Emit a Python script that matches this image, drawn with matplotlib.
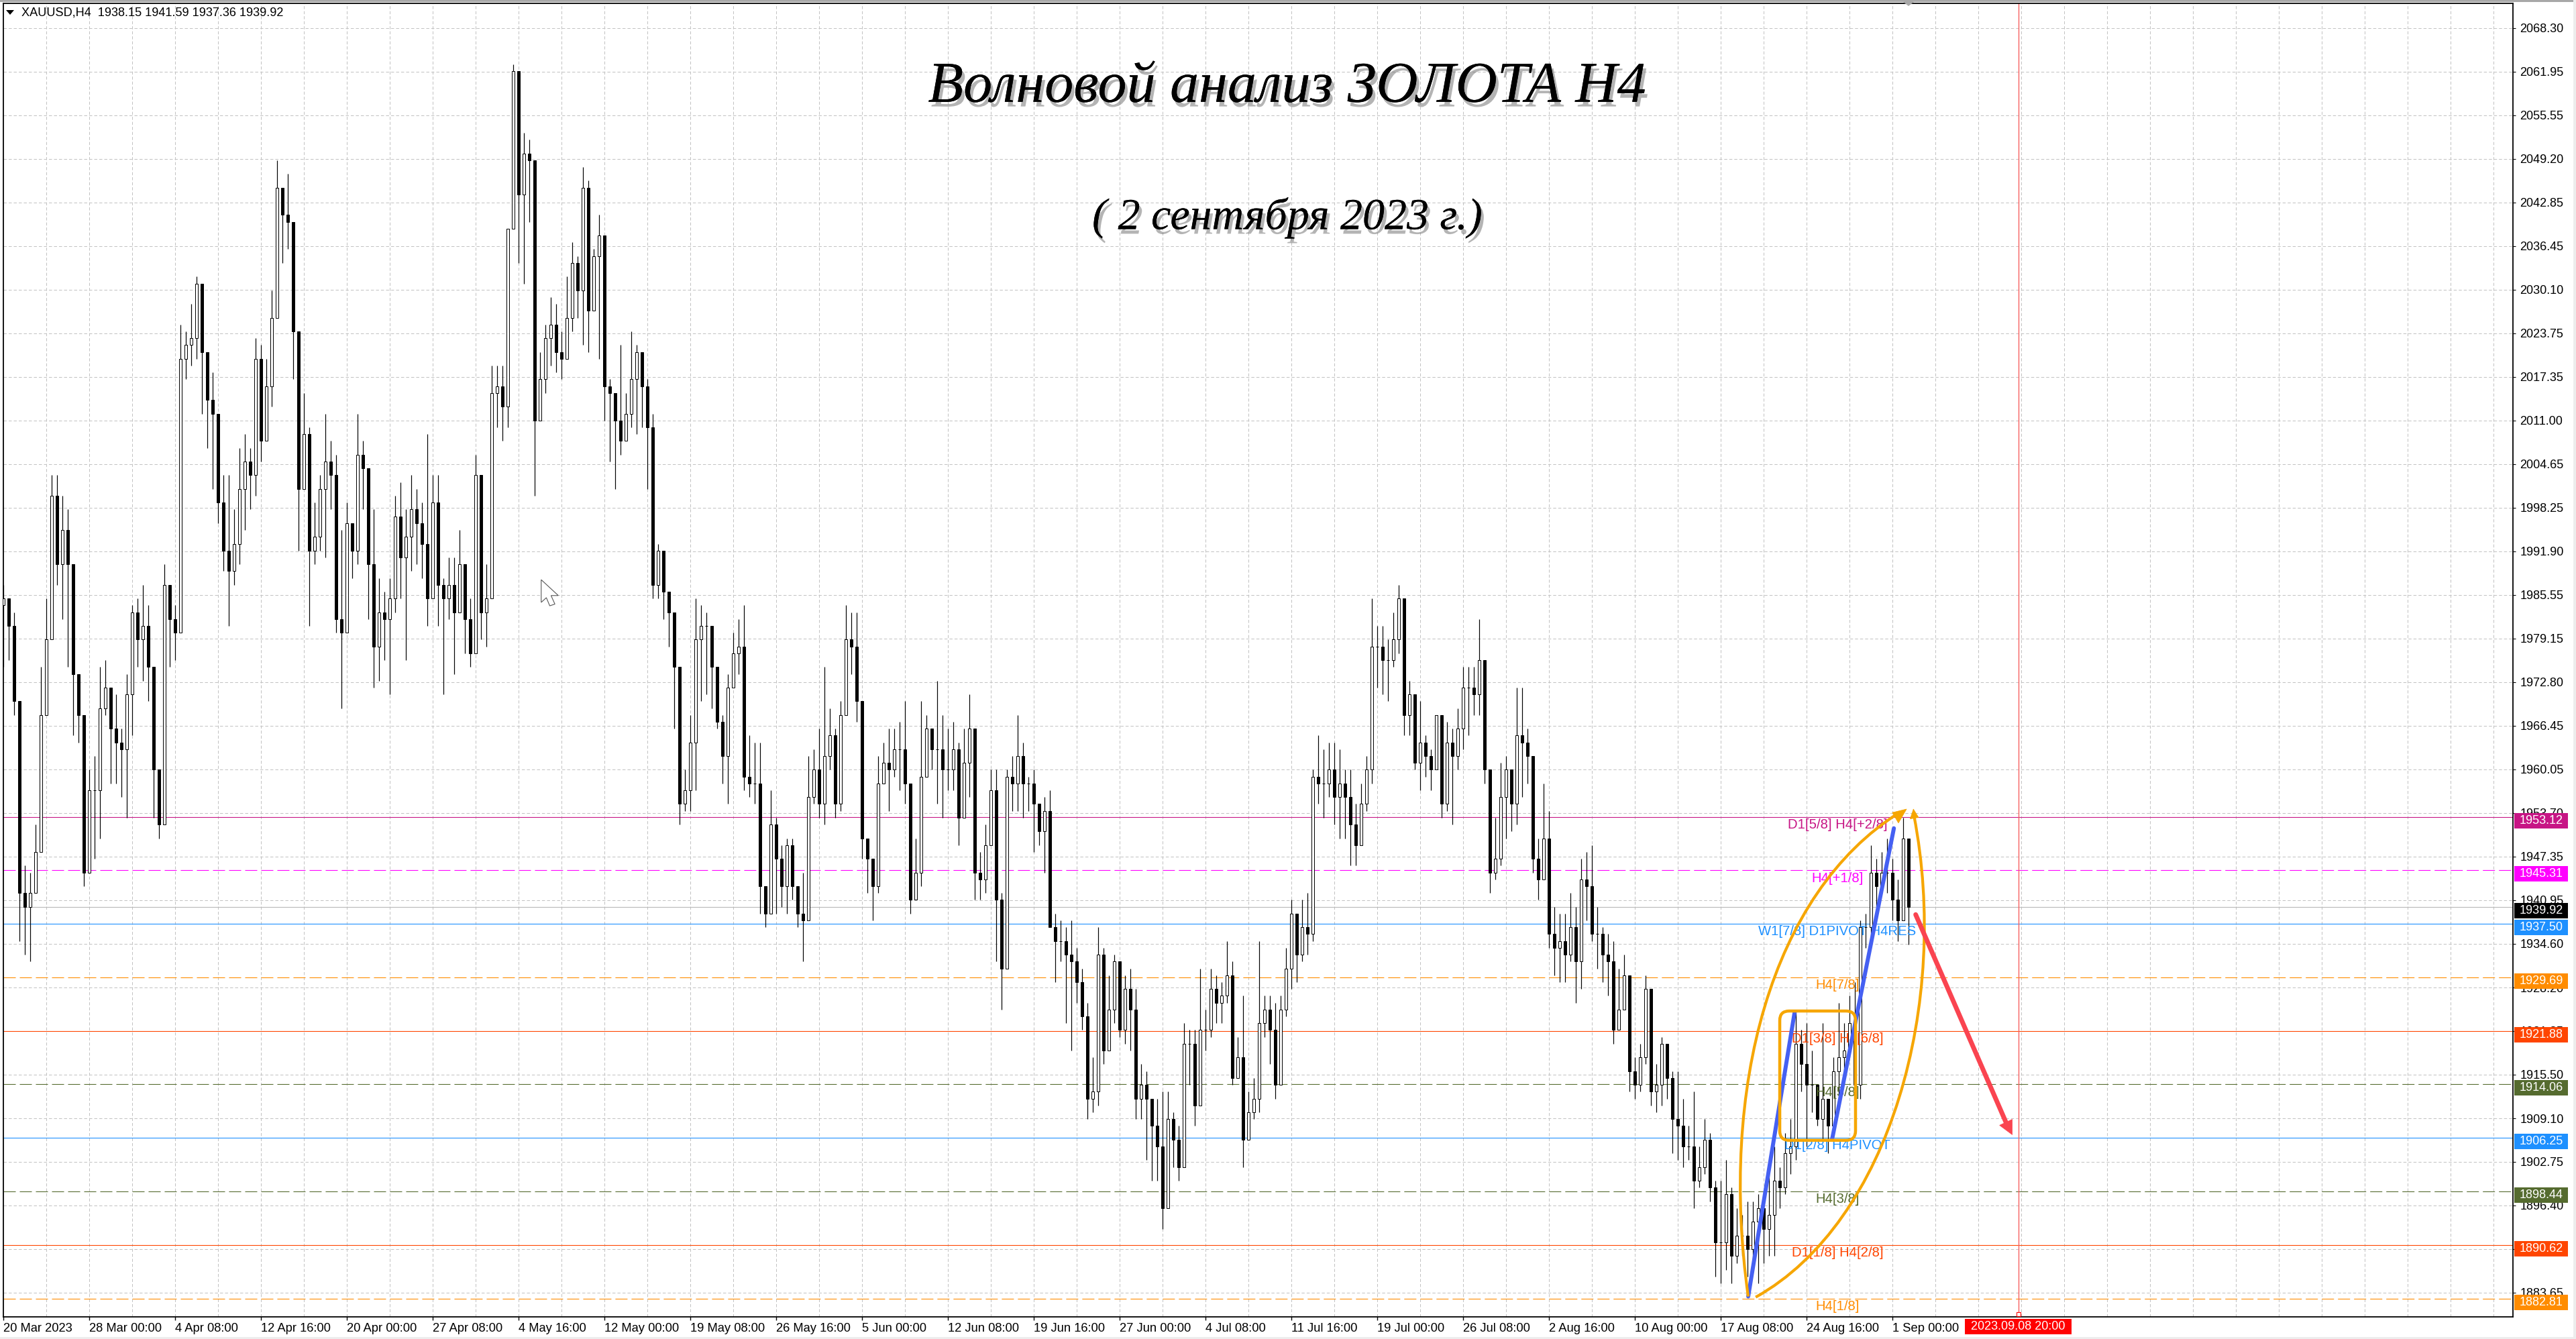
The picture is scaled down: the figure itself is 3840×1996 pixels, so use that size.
import numpy as np
import matplotlib
matplotlib.use("Agg")
import matplotlib.pyplot as plt
from matplotlib.path import Path
from matplotlib.patches import PathPatch, Polygon, Rectangle, FancyBboxPatch
from matplotlib.transforms import Affine2D
import matplotlib.patheffects as pe

plt.rcParams['font.family'] = ['Liberation Sans', 'DejaVu Sans']
plt.rcParams['lines.scale_dashes'] = False

first_open = 1984
closes = [
1985,1981,1970,1942,1940,1942,1948,1968,1979,2000,
1990,1995,1990,1974,1968,1945,1957,1957,1969,1972,
1966,1964,1963,1971,1983,1979,1981,1975,1960,1952,
1987,1982,1980,2020,2022,2023,2031,2021,2014,2012,
1999,1992,1989,1993,2001,2005,2003,2020,2008,2016,
2026,2045,2041,2040,2024,2001,2009,1992,1994,2001,
2005,2003,1982,1980,1996,1992,2006,2004,1990,1978,
1983,1982,1985,1997,1991,1994,1998,1996,1993,1985,
1999,1987,1985,1987,1983,1990,1982,1977,2003,1983,
1985,2015,2016,2013,2039,2062,2044,2050,2049,2011,
2017,2023,2025,2021,2020,2026,2034,2030,2045,2027,
2035,2038,2016,2015,2011,2008,2012,2017,2021,2016,
2010,1987,1992,1986,1983,1975,1955,1957,1964,1979,
1981,1981,1975,1967,1962,1972,1977,1978,1959,1958,
1958,1943,1939,1952,1947,1943,1949,1943,1939,1938,
1956,1960,1955,1962,1965,1955,1968,1979,1978,1970,
1950,1947,1943,1958,1961,1960,1963,1963,1958,1941,
1945,1959,1966,1963,1963,1960,1960,1963,1953,1961,
1966,1945,1944,1949,1957,1941,1931,1959,1958,1962,
1958,1958,1955,1951,1954,1937,1935,1935,1933,1932,
1929,1924,1912,1913,1933,1919,1925,1932,1922,1928,
1925,1912,1914,1912,1908,1905,1896,1909,1906,1902,
1920,1920,1911,1922,1922,1928,1926,1927,1930,1915,
1918,1906,1910,1912,1923,1925,1922,1914,1925,1931,
1939,1933,1937,1936,1959,1958,1958,1960,1956,1958,
1956,1952,1949,1955,1960,1978,1978,1976,1976,1979,
1985,1968,1971,1961,1964,1962,1960,1968,1955,1964,
1962,1966,1972,1972,1971,1976,1960,1945,1947,1956,
1960,1955,1965,1964,1962,1947,1944,1950,1936,1934,
1935,1933,1937,1932,1944,1943,1936,1936,1933,1932,
1922,1925,1930,1916,1914,1918,1928,1913,1914,1920,
1915,1909,1908,1905,1905,1900,1902,1906,1899,1891,
1891,1898,1889,1892,1892,1890,1894,1896,1893,1895,
1900,1899,1904,1905,1920,1917,1914,1914,1909,1912,
1908,1916,1918,1919,1923,1914,1937,1937,1945,1943,
1945,1945,1941,1938,1950,1939.92]
highs = [
1987,1985,1983,1966,1946,1945,1952,1975,1985,2003,
2003,2000,1998,1979,1971,1968,1960,1962,1975,1976,
1972,1971,1966,1974,1984,1985,1987,1984,1975,1960,
1990,1986,1984,2025,2024,2028,2032,2024,2021,2018,
2012,2003,2003,1998,2007,2009,2007,2023,2022,2020,
2030,2049,2045,2047,2033,2014,2015,2010,1999,2003,
2012,2008,2006,1995,1999,1996,2012,2008,2003,1998,
1988,1986,1988,2000,2002,1998,2003,2001,1999,2009,
2003,2003,1988,1991,1991,1995,1988,1985,2006,2003,
1990,2019,2019,2019,2039,2063,2060,2053,2052,2043,
2021,2025,2029,2028,2024,2032,2037,2035,2048,2046,
2036,2041,2038,2017,2014,2022,2015,2024,2022,2021,
2017,2012,1993,1992,1986,1982,1968,1960,1968,1985,
1984,1983,1980,1973,1968,1974,1980,1982,1984,1965,
1964,1964,1943,1957,1953,1949,1950,1950,1943,1945,
1962,1963,1966,1975,1969,1966,1970,1984,1983,1983,
1970,1950,1945,1962,1964,1966,1966,1967,1970,1958,
1950,1970,1968,1966,1973,1968,1966,1967,1964,1966,
1971,1965,1948,1952,1960,1960,1942,1960,1962,1968,
1964,1959,1960,1953,1956,1957,1939,1938,1937,1938,
1934,1931,1926,1918,1937,1934,1930,1933,1931,1930,
1931,1928,1917,1916,1912,1912,1913,1913,1910,1908,
1923,1922,1922,1931,1925,1931,1930,1929,1935,1932,
1921,1927,1913,1915,1935,1927,1927,1926,1927,1934,
1941,1935,1941,1942,1960,1965,1963,1964,1964,1963,
1960,1960,1955,1958,1962,1985,1981,1981,1979,1983,
1987,1984,1973,1971,1970,1965,1963,1968,1966,1967,
1966,1969,1975,1975,1975,1982,1976,1960,1953,1961,
1962,1959,1972,1972,1966,1960,1950,1958,1954,1940,
1939,1939,1942,1940,1947,1948,1949,1940,1937,1936,
1935,1931,1933,1926,1918,1920,1930,1921,1917,1921,
1919,1916,1916,1912,1908,1913,1905,1909,1907,1900,
1900,1903,1899,1896,1895,1897,1897,1898,1898,1902,
1905,1902,1907,1909,1925,1922,1923,1919,1914,1923,
1912,1918,1926,1923,1927,1929,1938,1939,1949,1947,
1948,1950,1947,1944,1953,1941.59]
lows = [
1975,1976,1968,1935,1933,1932,1942,1948,1968,1980,
1987,1982,1975,1965,1964,1943,1950,1947,1950,1968,
1958,1958,1956,1953,1965,1975,1973,1970,1953,1950,
1960,1975,1976,1980,2017,2019,2020,2012,2007,2001,
1996,1989,1981,1987,1990,1995,1998,2000,2005,2010,
2013,2030,2034,2036,2017,1992,2002,1981,1990,1992,
1991,1998,1980,1969,1980,1988,1990,1998,1982,1972,
1973,1976,1971,1983,1985,1976,1989,1990,1988,1981,
1985,1981,1971,1982,1974,1984,1977,1975,1978,1979,
1978,1985,2010,2008,2010,2039,2034,2031,2040,2000,
2013,2015,2019,2018,2017,2022,2024,2026,2022,2021,
2028,2020,2011,2005,2001,2006,2008,2010,2009,2010,
2001,1985,1985,1982,1978,1966,1952,1954,1954,1957,
1970,1971,1969,1966,1958,1955,1972,1974,1957,1956,
1955,1939,1937,1940,1939,1940,1939,1941,1937,1932,
1938,1955,1953,1952,1960,1953,1954,1969,1974,1967,
1947,1942,1938,1942,1958,1954,1959,1957,1955,1939,
1942,1943,1961,1960,1955,1953,1957,1957,1949,1955,
1956,1941,1941,1942,1950,1932,1925,1931,1954,1954,
1953,1954,1948,1949,1945,1937,1929,1932,1923,1919,
1926,1922,1909,1910,1911,1917,1922,1923,1921,1920,
1919,1909,1909,1903,1900,1900,1893,1900,1902,1900,
1902,1914,1908,1917,1919,1921,1923,1923,1926,1914,
1915,1902,1907,1909,1910,1921,1917,1912,1919,1924,
1928,1929,1932,1933,1935,1955,1953,1956,1952,1950,
1950,1946,1946,1949,1954,1958,1972,1971,1970,1975,
1977,1965,1965,1960,1957,1959,1957,1960,1953,1954,
1952,1960,1963,1965,1968,1968,1958,1942,1944,1946,
1950,1951,1952,1956,1958,1945,1941,1947,1934,1930,
1929,1929,1932,1926,1928,1938,1935,1931,1929,1927,
1920,1923,1926,1913,1912,1913,1917,1911,1910,1911,
1912,1904,1903,1902,1903,1896,1899,1901,1897,1886,
1885,1887,1885,1888,1889,1886,1888,1885,1888,1889,
1889,1896,1898,1901,1903,1913,1905,1910,1908,1906,
1904,1910,1912,1914,1918,1910,1912,1934,1934,1940,
1942,1942,1938,1935,1938,1934.5]

y_ticks = [2068.30,2061.95,2055.55,2049.20,2042.85,2036.45,2030.10,2023.75,2017.35,2011.00,
           2004.65,1998.25,1991.90,1985.55,1979.15,1972.80,1966.45,1960.05,1953.70,1947.35,
           1940.95,1934.60,1928.20,1921.85,1915.50,1909.10,1902.75,1896.40,1890.00,1883.65]
date_labels = ["20 Mar 2023","28 Mar 00:00","4 Apr 08:00","12 Apr 16:00","20 Apr 00:00","27 Apr 08:00",
               "4 May 16:00","12 May 00:00","19 May 08:00","26 May 16:00","5 Jun 00:00","12 Jun 08:00",
               "19 Jun 16:00","27 Jun 00:00","4 Jul 08:00","11 Jul 16:00","19 Jul 00:00","26 Jul 08:00",
               "2 Aug 16:00","10 Aug 00:00","17 Aug 08:00","24 Aug 16:00","1 Sep 00:00"]
level_values = [1953.12,1945.31,1939.92,1937.50,1929.69,1921.88,1914.06,1906.25,1898.44,1890.62,1882.81]
level_colors = ['#C71585','#FF00FF','#B8B8B8','#1E90FF','#FF8C00','#FF4500','#556B2F','#1E90FF','#556B2F','#FF4500','#FF8C00']
level_dashed = [False,True,False,False,True,False,True,False,True,False,True]
badge_colors = ['#C71585','#FF00FF','#000000','#1E90FF','#FF8C00','#FF4500','#556B2F','#1E90FF','#556B2F','#FF4500','#FF8C00']
level_text = ["D1[5/8] H4[+2/8]","H4[+1/8]",None,"W1[7/8] D1PIVOT H4RES","H4[7/8]","D1[3/8] H4[6/8]",
              "H4[5/8]","D1[2/8] H4PIVOT","H4[3/8]","D1[1/8] H4[2/8]","H4[1/8]"]

W, H = 3840, 1996
L, R, T, B = 5, 3746, 5, 1963
price_at = lambda y: 2068.30 - (y - 41.7) / 10.21

fig = plt.figure(figsize=(W/100, H/100), dpi=100, facecolor='white')
ax = fig.add_axes([L/W, 1-B/H, (R-L)/W, (B-T)/H])
pix = Affine2D().scale(1, -1).translate(0, H)
px = 1/1.389

n = len(closes)
x = np.arange(n) * 2
c = np.array(closes, float)
o = np.r_[first_open, c[:-1]]
h = np.maximum.reduce([np.array(highs, float), o, c])
l = np.minimum.reduce([np.array(lows, float), o, c])

# grid
gridstyle = dict(color='#c2c2c2', lw=1.0*px, ls=(0, (4.5*px, 3*px)), zorder=1)
for v in np.arange(16, 936, 16):
    ax.axvline(v, **gridstyle)
for v in y_ticks:
    ax.axhline(v, **gridstyle)

# levels
for v, col, d in zip(level_values, level_colors, level_dashed):
    ls = (0, (18*px, 6*px)) if d else '-'
    ax.axhline(v, color=col, lw=1.1*px, ls=ls, zorder=2)

# vertical marker
vmark = 751
ax.axvline(vmark, color='#F86060', lw=1.4*px, zorder=2)
ax.plot([vmark], [price_at(1959)], marker='s', ms=4, mfc='white', mec='#FF0000', mew=0.8, zorder=3, clip_on=False)

# candles
up = c >= o
ax.vlines(x, l, h, color='black', lw=1.2*px, zorder=3)
ax.bar(x[up], (c-o)[up], bottom=o[up], width=0.9, facecolor='white', edgecolor='black', linewidth=1.0*px, zorder=4)
ax.bar(x[~up], (c-o)[~up], bottom=o[~up], width=0.9, facecolor='black', edgecolor='black', linewidth=1.0*px, zorder=4)

# level labels
for v, col, t in zip(level_values, level_colors, level_text):
    if t:
        ax.text(683.5, v-1.15, t, color=col, fontsize=14.6, ha='center', va='center', zorder=5)

# hand drawn shapes (reference pixel positions)
z4 = lambda a, b: (2480 + a/2.063, 1180 + b/1.92)
orange, blue, red = '#F6A600', '#4560F2', '#FA4450'
def curve(p0, p1, p2, p3):
    verts = [z4(*p0), z4(*p1), z4(*p2), z4(*p3)]
    ax.add_patch(PathPatch(Path(verts, [Path.MOVETO, Path.CURVE4, Path.CURVE4, Path.CURVE4]),
                           fc='none', ec=orange, lw=4.2*px, transform=pix, zorder=6, clip_on=False))
def tri(pts, col):
    ax.add_patch(Polygon([z4(*q) for q in pts], closed=True, fc=col, ec=col, lw=0.5, transform=pix, zorder=7, clip_on=False))
def seg(a, b, col, w):
    p, q = z4(*a), z4(*b)
    ax.plot([p[0], q[0]], [p[1], q[1]], color=col, lw=w*px, transform=pix, zorder=6,
            solid_capstyle='round', clip_on=False)

seg((260, 1445), (403, 630), blue, 6)
seg((518, 995), (708, 105), blue, 6)
curve((260, 1445), (170, 850), (330, 290), (725, 60))
curve((283, 1447), (700, 1230), (880, 600), (770, 70))
tri([(747, 50), (703, 60), (722, 90)], orange)
tri([(768, 50), (758, 78), (784, 74)], orange)
x0, y0 = z4(357, 628); x1, y1 = z4(590, 998)
ax.add_patch(FancyBboxPatch((x0+14, y0+14), x1-x0-28, y1-y0-28, boxstyle="round,pad=14,rounding_size=14",
                            fc='none', ec=orange, lw=4.5*px, transform=pix, zorder=6, clip_on=False))
seg((775, 352), (1058, 958), red, 7)
tri([(1072, 982), (1033, 955), (1072, 938)], red)

# mouse pointer
cur = [(1265,1355),(1305,1392),(1288,1392),(1297,1412),(1285,1416),(1277,1397),(1265,1408)]
ax.add_patch(Polygon([(a/1.568, b/1.568) for a, b in cur], closed=True, fc='white', ec='#555555', lw=1.1*px,
                     transform=pix, zorder=6))

# titles
shadow = [pe.withSimplePatchShadow(offset=(3, -5), shadow_rgbFace='#777777', alpha=0.55), pe.Normal()]
t1 = ax.text(1919, 131, "Волновой анализ ЗОЛОТА Н4", family='Liberation Serif', style='italic', fontsize=62,
             color='black', ha='center', va='center', transform=pix, zorder=8)
t1.set_path_effects(shadow)
t2 = ax.text(1919, 325, "( 2 сентября 2023 г.)", family='Liberation Serif', style='italic', fontsize=47.5,
             color='black', ha='center', va='center', transform=pix, zorder=8)
t2.set_path_effects(shadow)

# header
ax.add_patch(Polygon([(9, 15), (21, 15), (15, 22)], closed=True, fc='black', ec='none', transform=pix, zorder=8))
ax.text(32, 19.5, "XAUUSD,H4  1938.15 1941.59 1937.36 1939.92", fontsize=13.1, color='black',
        ha='left', va='center', transform=pix, zorder=8)

# axes
ax.set_xlim(0, (R-L)/4)
ax.set_ylim(price_at(B), price_at(T))
ax.yaxis.tick_right()
ax.set_yticks(y_ticks)
ax.set_yticklabels([f"{v:.2f}" for v in y_ticks], fontsize=13, color='black')
ax.set_xticks(np.arange(len(date_labels)) * 32)
ax.set_xticklabels(date_labels, fontsize=13.2, color='black', ha='left')
ax.tick_params(axis='y', length=3, width=1.1*px, pad=4.5, color='black')
ax.tick_params(axis='x', length=3.5, width=1.4*px, pad=3, color='black')
for s in ax.spines.values():
    s.set_linewidth(1.8*px)
    s.set_color('black')
ax.set_axisbelow(False)

# price badges, pinned to the level they belong to
for v, col in zip(level_values, badge_colors):
    yp = H - ax.transData.transform((0, v))[1]
    ax.add_patch(Rectangle((3748, yp-6), 80, 23, fc=col, ec='none', transform=pix, zorder=10, clip_on=False))
    ax.text(3788, yp+5.5, f"{v:.2f}", color='white', fontsize=13, ha='center', va='center',
            transform=pix, zorder=11, clip_on=False)

# date badge
ax.add_patch(Rectangle((2929, 1966), 159, 23, fc='#FF0000', ec='none', transform=pix, zorder=10, clip_on=False))
ax.text(3008.5, 1977.5, "2023.09.08 20:00", color='white', fontsize=13, ha='center', va='center',
        transform=pix, zorder=11, clip_on=False)

# window frame
ax.add_patch(Rectangle((0, 0), W, 3, fc='#A8A8A8', ec='none', transform=pix, zorder=9, clip_on=False))
ax.add_patch(Rectangle((0, 1993), W, 3, fc='#EDEDED', ec='none', transform=pix, zorder=9, clip_on=False))
ax.add_patch(Rectangle((3836, 0), 4, H, fc='#EDEDED', ec='none', transform=pix, zorder=9, clip_on=False))
ax.add_patch(Polygon([(2836, 2), (2854, 2), (2845, 9)], closed=True, fc='#A8A8A8', ec='none', transform=pix, zorder=10, clip_on=False))

fig.savefig('out.png', dpi=100)
